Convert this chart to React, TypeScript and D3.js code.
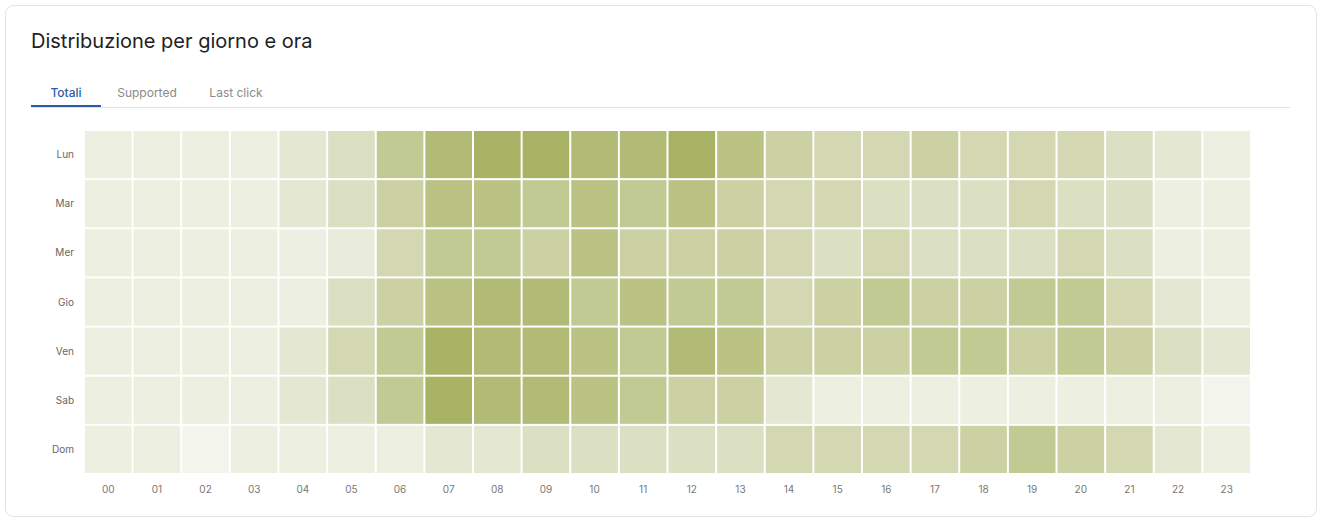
import React from "react";
import * as d3 from "d3";

const days = ["Lun", "Mar", "Mer", "Gio", "Ven", "Sab", "Dom"];
const hours = ["00", "01", "02", "03", "04", "05", "06", "07", "08", "09", "10", "11",
  "12", "13", "14", "15", "16", "17", "18", "19", "20", "21", "22", "23"];
const tabs = ["Totali", "Supported", "Last click"];

// intensity per day (rows) and hour (columns)
const lun = [10, 10, 10, 10, 20, 30, 60, 80, 90, 90, 80, 80, 92, 70, 50, 40, 40, 50, 40, 40, 40, 30, 20, 10];
const mar = [10, 10, 10, 10, 20, 30, 50, 70, 70, 60, 70, 60, 70, 50, 40, 40, 30, 30, 30, 40, 30, 30, 10, 10];
const mer = [10, 10, 10, 10, 9, 14, 40, 60, 60, 50, 70, 50, 50, 50, 40, 30, 40, 30, 30, 30, 40, 30, 10, 10];
const gio = [10, 10, 10, 10, 9, 30, 50, 70, 80, 80, 60, 70, 60, 60, 40, 50, 60, 50, 50, 60, 60, 40, 20, 10];
const ven = [10, 10, 10, 10, 20, 40, 60, 90, 80, 80, 70, 60, 80, 70, 50, 50, 50, 60, 60, 50, 60, 50, 30, 20];
const sab = [10, 10, 10, 10, 20, 30, 60, 90, 80, 80, 70, 60, 50, 50, 20, 10, 10, 10, 10, 10, 10, 10, 10, 2];
const dom = [10, 10, 2, 10, 10, 10, 10, 20, 20, 30, 30, 30, 30, 30, 40, 40, 40, 40, 50, 60, 50, 40, 20, 10];
const rows = [lun, mar, mer, gio, ven, sab, dom];

const W = 1322;
const H = 522;
const font = "Inter, 'Noto Sans', sans-serif";

export default function App() {
  const x = d3.scaleBand<string>().domain(hours).range([84, 1251]);
  const y = d3.scaleBand<string>().domain(days).range([130, 474]);
  const color = d3
    .scaleLinear<string>()
    .domain([0, 100])
    .range(["#f5f6f0", "#a0ac56"])
    .interpolate(d3.interpolateRgb);

  const tabX = [66, 147, 236];

  return (
    <svg
      width={W}
      height={H}
      style={{ position: "absolute", left: 0, top: 0, background: "#fff" }}
      fontFamily={font}
    >
      {/* card */}
      <rect x={5.5} y={5.5} width={1311} height={511} rx={8} fill="#fff" stroke="#e2e2e2" />

      <text x={31} y={48} fontSize={20} fill="#222">
        Distribuzione per giorno e ora
      </text>

      {/* tabs */}
      <line x1={31} x2={1290} y1={107.5} y2={107.5} stroke="#e0e0e0" />
      <rect x={31} y={105} width={70} height={2} fill="#2c5ca6" />
      {tabs.map((t, i) => (
        <text
          key={t}
          x={tabX[i]}
          y={96.5}
          textAnchor="middle"
          fontSize={12}
          fontWeight={i === 0 ? 500 : 400}
          fill={i === 0 ? "#2c5ca6" : "#8a8a8a"}
        >
          {t}
        </text>
      ))}

      {/* heatmap cells */}
      {rows.map((vals, r) =>
        vals.map((v, c) => (
          <rect
            key={`${r}-${c}`}
            x={(x(hours[c]) ?? 0) + 1}
            y={(y(days[r]) ?? 0) + 1}
            width={x.bandwidth() - 2}
            height={y.bandwidth() - 2}
            fill={color(v)}
          />
        ))
      )}

      {/* y labels */}
      {days.map((d) => (
        <text
          key={d}
          x={74}
          y={(y(d) ?? 0) + y.bandwidth() / 2}
          dy="0.35em"
          textAnchor="end"
          fontSize={10}
          fill="#666"
        >
          {d}
        </text>
      ))}

      {/* x labels */}
      {hours.map((h) => (
        <text
          key={h}
          x={(x(h) ?? 0) + x.bandwidth() / 2}
          y={489}
          dy="0.35em"
          textAnchor="middle"
          fontSize={10}
          fill="#777"
        >
          {h}
        </text>
      ))}
    </svg>
  );
}
